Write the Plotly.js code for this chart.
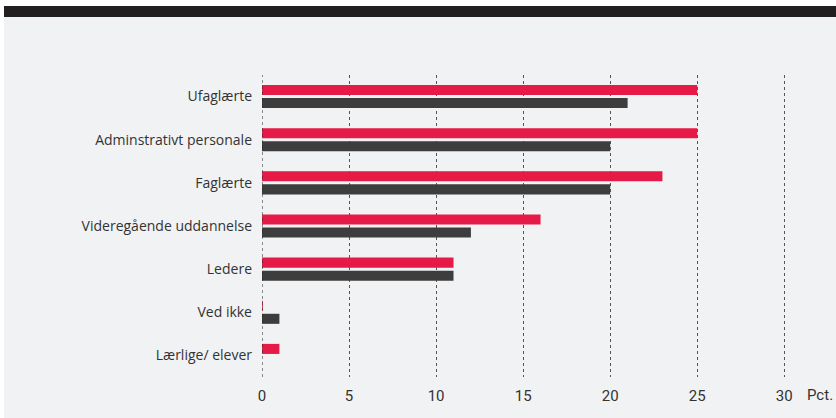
<!DOCTYPE html>
<html>
<head>
<meta charset="utf-8">
<script src="https://cdn.plot.ly/plotly-3.0.1.min.js"></script>
<style>
html,body{margin:0;padding:0;background:#ffffff;width:836px;height:418px;overflow:hidden;}
#topbar{position:absolute;left:4px;top:6px;width:832px;height:11px;background:#231f20;}
#chart{position:absolute;left:4px;top:17px;width:832px;height:401px;}
</style>
</head>
<body>
<div id="topbar"></div>
<div id="chart"></div>
<script>
const categories = ["Ufaglærte", "Adminstrativt personale", "Faglærte", "Videregående uddannelse", "Ledere", "Ved ikke", "Lærlige/ elever"];
const seriesRed = [25, 25, 23, 16, 11, 0.05, 1];
const seriesDark = [21, 20, 20, 12, 11, 1, 0];
const tickValues = [0, 5, 10, 15, 20, 25, 30];
const unitLabel = "Pct.";

const traces = [
  {type: "bar", orientation: "h", y: categories, x: seriesRed, marker: {color: "#e51a47"}, hoverinfo: "none", name: "A"},
  {type: "bar", orientation: "h", y: categories, x: seriesDark, marker: {color: "#3d3d3d"}, hoverinfo: "none", name: "B"}
];

const layout = {
  width: 832, height: 401,
  margin: {l: 258, r: 43, t: 58, b: 41, pad: 0},
  paper_bgcolor: "#f1f2f4",
  plot_bgcolor: "#f1f2f4",
  showlegend: false,
  barmode: "group",
  bargap: 0.395,
  bargroupgap: 0.23,
  font: {family: "Open Sans, sans-serif", color: "#333333", size: 13},
  xaxis: {
    range: [0, 30.5],
    tickvals: tickValues,
    ticktext: tickValues.map(String),
    showgrid: true,
    gridcolor: "#555555",
    griddash: "dot",
    gridwidth: 1,
    zeroline: false,
    showline: false,
    ticks: "",
    tickfont: {family: "Roboto, sans-serif", size: 15, color: "#333333"},
    ticklabelstandoff: 8,
    fixedrange: true
  },
  yaxis: {
    type: "category",
    categoryorder: "array",
    categoryarray: categories,
    autorange: "reversed",
    showgrid: false,
    zeroline: false,
    showline: false,
    ticks: "",
    ticklabelstandoff: 9,
    tickfont: {family: "Open Sans, sans-serif", size: 14, color: "#333333"},
    fixedrange: true
  },
  shapes: [
    {type: "line", xref: "x", yref: "paper", x0: 0, x1: 0, y0: 0, y1: 1, line: {color: "#222222", width: 1, dash: "dot"}, layer: "above"}
  ],
  annotations: [
    {text: unitLabel, xref: "paper", yref: "paper", x: 1, y: 0, xanchor: "left", yanchor: "top", xshift: 12, yshift: -7, showarrow: false, font: {family: "Roboto, sans-serif", size: 15, color: "#333333"}}
  ]
};

Plotly.newPlot("chart", traces, layout, {displayModeBar: false, staticPlot: true});
</script>
</body>
</html>
